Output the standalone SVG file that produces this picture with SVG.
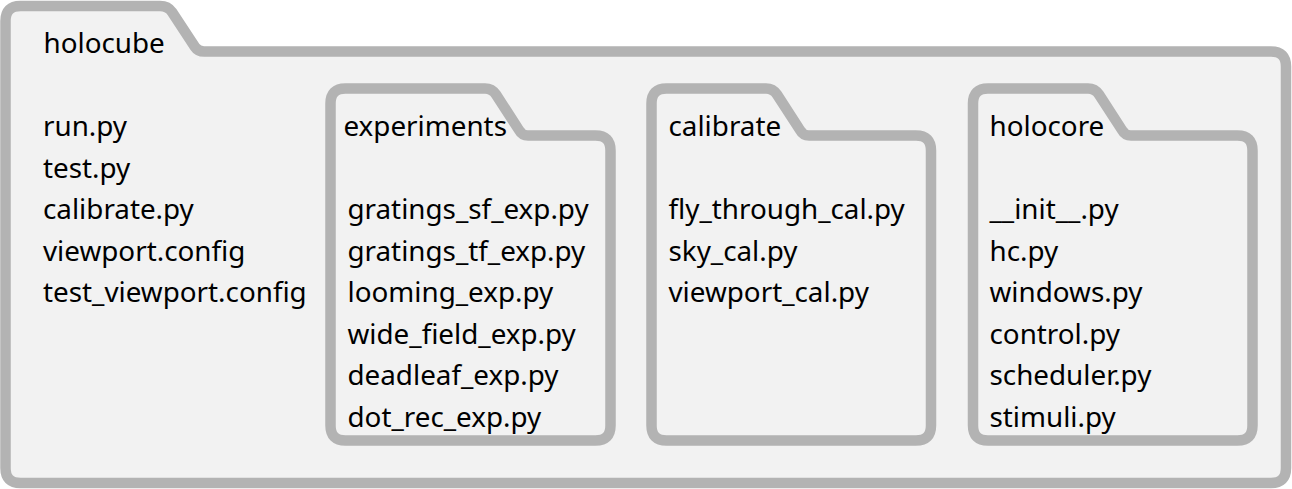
<svg xmlns="http://www.w3.org/2000/svg" width="1292" height="489" viewBox="0 0 1292 489">
<style>
.folder{fill:#f2f2f2;stroke:#b3b3b3;stroke-width:10.5;stroke-linejoin:round}
text{font-family:"Noto Sans","Open Sans","DejaVu Sans",sans-serif;font-size:27.8px;fill:#000}
</style>
<rect width="1292" height="489" fill="#ffffff"/>
<g id="holocube">
<path class="folder" d="M5.5,21 Q5.5,6 20.5,6 L160,6 Q168,6 172,12 L195,47 Q198,51.5 204,51.5 L1271,51.5 Q1286,51.5 1286,66.5 L1286,468 Q1286,483 1271,483 L20.5,483 Q5.5,483 5.5,468 Z"/>
<text x="43.5" y="52.5">holocube</text>
<text x="43" y="136">run.py</text>
<text x="43" y="177.5">test.py</text>
<text x="43" y="219">calibrate.py</text>
<text x="43" y="260.5">viewport.config</text>
<text x="43" y="302">test_viewport.config</text>
</g>
<g id="experiments">
<path class="folder" d="M330.5,103.5 Q330.5,88.5 345.5,88.5 L485,88.5 Q492,88.5 496,94.5 L519,130 Q522,135.5 528,135.5 L595.5,135.5 Q610.5,135.5 610.5,150.5 L610.5,425.5 Q610.5,440.5 595.5,440.5 L345.5,440.5 Q330.5,440.5 330.5,425.5 Z"/>
<text x="343.5" y="136">experiments</text>
<text x="347.5" y="219">gratings_sf_exp.py</text>
<text x="347.5" y="260.5">gratings_tf_exp.py</text>
<text x="347.5" y="302">looming_exp.py</text>
<text x="347.5" y="343.5">wide_field_exp.py</text>
<text x="347.5" y="385">deadleaf_exp.py</text>
<text x="347.5" y="426.5">dot_rec_exp.py</text>
</g>
<g id="calibrate">
<path class="folder" d="M651.5,103.5 Q651.5,88.5 666.5,88.5 L766,88.5 Q773,88.5 777,94.5 L800,130 Q803,135.5 809,135.5 L916,135.5 Q931,135.5 931,150.5 L931,425.5 Q931,440.5 916,440.5 L666.5,440.5 Q651.5,440.5 651.5,425.5 Z"/>
<text x="668.5" y="136">calibrate</text>
<text x="668.5" y="219">fly_through_cal.py</text>
<text x="668.5" y="260.5">sky_cal.py</text>
<text x="668.5" y="302">viewport_cal.py</text>
</g>
<g id="holocore">
<path class="folder" d="M973,103.5 Q973,88.5 988,88.5 L1088,88.5 Q1095,88.5 1099,94.5 L1122,130 Q1125,135.5 1131,135.5 L1237.5,135.5 Q1252.5,135.5 1252.5,150.5 L1252.5,425.5 Q1252.5,440.5 1237.5,440.5 L988,440.5 Q973,440.5 973,425.5 Z"/>
<text x="989.5" y="136">holocore</text>
<text x="989.5" y="219">__init__.py</text>
<text x="989.5" y="260.5">hc.py</text>
<text x="989.5" y="302">windows.py</text>
<text x="989.5" y="343.5">control.py</text>
<text x="989.5" y="385">scheduler.py</text>
<text x="989.5" y="426.5">stimuli.py</text>
</g>
<g id="connectors"/>
</svg>
